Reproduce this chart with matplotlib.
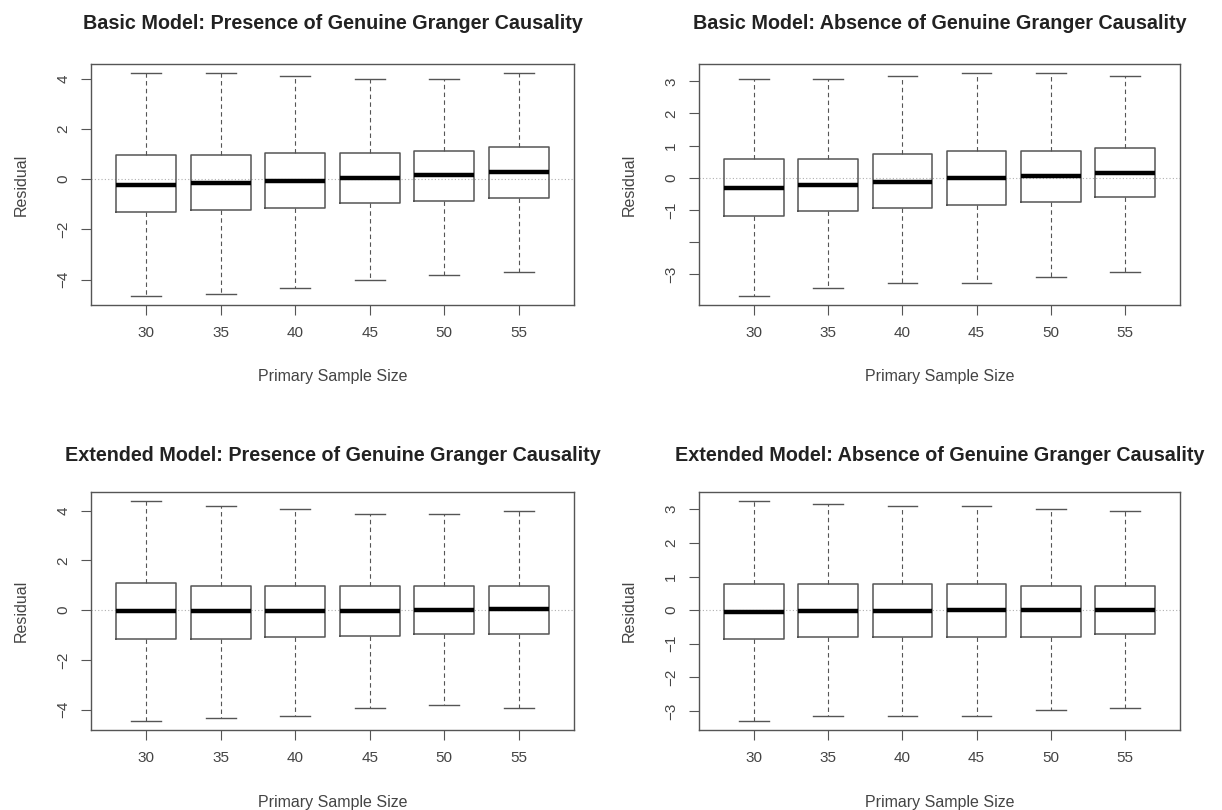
import numpy as np
import matplotlib
matplotlib.use("Agg")
import matplotlib.pyplot as plt

plt.rcParams['font.family'] = ['Liberation Sans', 'DejaVu Sans']

sizes = [30, 35, 40, 45, 50, 55]

# basic model, presence
bp_med = [-0.24, -0.15, -0.07, 0.03, 0.17, 0.29]
bp_q1 = [-1.30, -1.21, -1.13, -0.96, -0.85, -0.76]
bp_q3 = [0.97, 0.96, 1.04, 1.05, 1.14, 1.27]
bp_lo = [-4.66, -4.56, -4.33, -4.00, -3.80, -3.69]
bp_hi = [4.24, 4.24, 4.10, 4.00, 4.00, 4.24]

# basic model, absence
ba_med = [-0.33, -0.23, -0.14, -0.02, 0.05, 0.14]
ba_q1 = [-1.18, -1.02, -0.95, -0.84, -0.76, -0.60]
ba_q3 = [0.58, 0.57, 0.74, 0.83, 0.83, 0.94]
ba_lo = [-3.68, -3.42, -3.26, -3.26, -3.09, -2.93]
ba_hi = [3.08, 3.08, 3.17, 3.26, 3.26, 3.17]

# extended model, presence
ep_med = [-0.05, -0.05, -0.05, -0.05, -0.01, 0.03]
ep_q1 = [-1.17, -1.17, -1.07, -1.04, -0.95, -0.95]
ep_q3 = [1.08, 0.97, 0.97, 0.97, 0.97, 0.97]
ep_lo = [-4.47, -4.36, -4.27, -3.93, -3.83, -3.93]
ep_hi = [4.40, 4.20, 4.08, 3.87, 3.87, 3.97]

# extended model, absence
ea_med = [-0.04, -0.02, -0.02, 0.0, 0.0, 0.0]
ea_q1 = [-0.87, -0.79, -0.79, -0.79, -0.79, -0.70]
ea_q3 = [0.79, 0.79, 0.79, 0.79, 0.72, 0.72]
ea_lo = [-3.30, -3.15, -3.15, -3.15, -2.97, -2.91]
ea_hi = [3.25, 3.17, 3.10, 3.10, 3.01, 2.94]

titles = ["Basic Model: Presence of Genuine Granger Causality",
          "Basic Model: Absence of Genuine Granger Causality",
          "Extended Model: Presence of Genuine Granger Causality",
          "Extended Model: Absence of Genuine Granger Causality"]

ticks_pres = [-4, -2, 0, 2, 4]
ticks_abs = [-3, -2, -1, 0, 1, 2, 3]
labels_ba = ["\u22123", "", "\u22121", "0", "1", "2", "3"]
labels_ea = ["\u22123", "\u22122", "\u22121", "0", "1", "2", "3"]
labels_pres = ["\u22124", "\u22122", "0", "2", "4"]

W, H = 1222, 810
fig = plt.figure(figsize=(W / 100, H / 100), dpi=100)

def px_axes(l, t, r, b):
    return fig.add_axes([l / W, 1 - b / H, (r - l) / W, (b - t) / H])

boxes = [(91, 64, 574, 305), (699, 64, 1180, 305),
         (91, 492, 574, 730), (699, 492, 1180, 730)]
title_pads = [25, 25, 22, 22]
panels = [
    (bp_med, bp_q1, bp_q3, bp_lo, bp_hi, ticks_pres, labels_pres),
    (ba_med, ba_q1, ba_q3, ba_lo, ba_hi, ticks_abs, labels_ba),
    (ep_med, ep_q1, ep_q3, ep_lo, ep_hi, ticks_pres, labels_pres),
    (ea_med, ea_q1, ea_q3, ea_lo, ea_hi, ticks_abs, labels_ea),
]

grey = '#555555'
txt = '#444444'

for i, (med, q1, q3, lo, hi, yt, yl) in enumerate(panels):
    l, t, r, b = boxes[i]
    ax = px_axes(l, t, r, b)
    wpx, hpx = r - l, b - t
    stats = []
    for k in range(len(sizes)):
        stats.append(dict(med=med[k], q1=q1[k], q3=q3[k], whislo=lo[k], whishi=hi[k], fliers=[]))
    pos = np.arange(1, len(sizes) + 1)
    ax.axhline(0, color='#b0b0b0', lw=0.8, ls=(0, (1, 2)), zorder=0)
    ax.bxp(stats, positions=pos, widths=0.8, showfliers=False,
           boxprops=dict(color=grey, lw=1.1),
           medianprops=dict(color='black', lw=3.2, solid_capstyle='butt'),
           whiskerprops=dict(color=grey, lw=0.8, ls=(0, (4, 3))),
           capprops=dict(color=grey, lw=1.0), capwidths=0.4)
    lo_all, hi_all = min(lo), max(hi)
    pad = 0.04 * (hi_all - lo_all)
    ax.set_ylim(lo_all - pad, hi_all + pad)
    ax.set_xlim(0.26, 6.74)
    ax.set_xticks(pos)
    ax.set_xticklabels([str(s) for s in sizes], fontsize=11, color=txt)
    ax.set_yticks(yt)
    ax.set_yticklabels(yl, fontsize=11, color=txt, rotation=90, va='center')
    ax.tick_params(length=7, width=0.8, color=grey, pad=8)
    for sp in ax.spines.values():
        sp.set_color(grey)
        sp.set_linewidth(1.0)
    ax.set_ylabel("Residual", fontsize=11.5, color=txt, va='center')
    ax.yaxis.set_label_coords(-70 / wpx, 0.5)
    ax.set_xlabel("Primary Sample Size", fontsize=11.5, color=txt, va='center')
    ax.xaxis.set_label_coords(0.5, -72 / hpx)
    ax.set_title(titles[i], fontsize=14.2, fontweight='bold', color='#222222',
                 pad=title_pads[i])

fig.savefig("out.png", dpi=100)
